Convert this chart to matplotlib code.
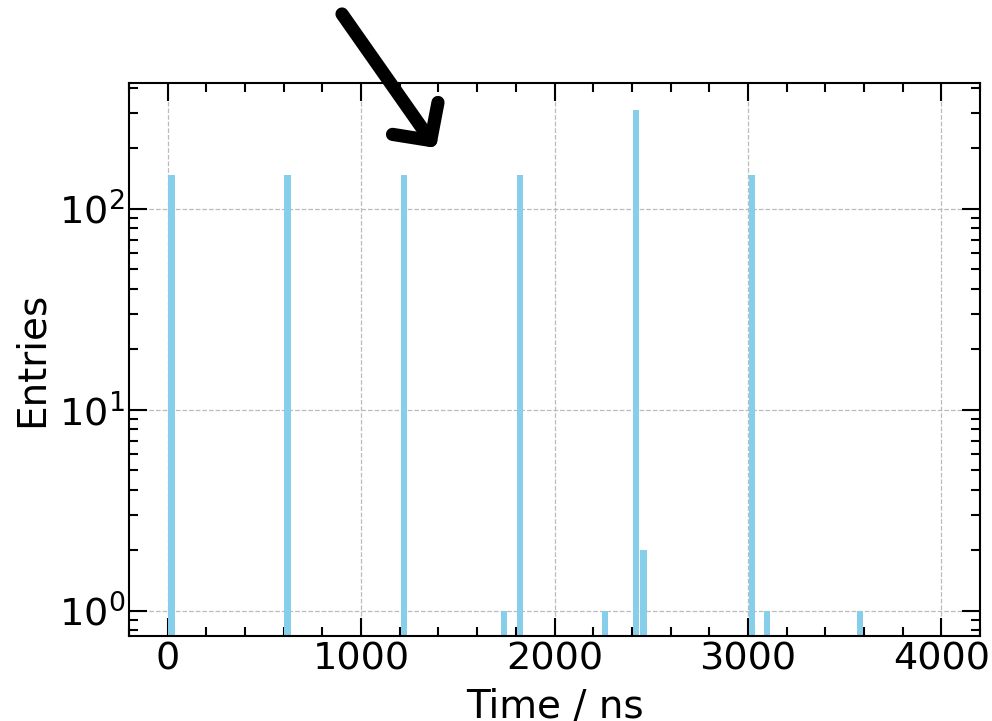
import matplotlib
matplotlib.use('Agg')
import matplotlib.pyplot as plt
from matplotlib.ticker import MultipleLocator, LogLocator, NullFormatter

# Histogram content: left edge of each 40 ns bin and its entries
bin_width = 40
time_bins = [0, 600, 1200, 1720, 1800, 2240, 2400, 2440, 3000, 3080, 3560]
entries = [148, 148, 148, 1, 148, 1, 310, 2, 148, 1, 1]
bin_edges = list(range(0, 4000 + bin_width, bin_width))

plt.rcParams['font.family'] = 'DejaVu Sans'
plt.rcParams['mathtext.fontset'] = 'dejavusans'

fig = plt.figure(figsize=(9.92, 7.21), dpi=100)
ax = fig.add_axes([0.130, 0.118, 0.858, 0.767])

# Draw the histogram from the bin contents
ax.hist(time_bins, bins=bin_edges, weights=entries, rwidth=0.8,
        color='skyblue', log=True, zorder=2)

ax.set_xlim(-200, 4200)
ax.set_ylim(0.75, 423)
ax.xaxis.set_major_locator(MultipleLocator(1000))
ax.xaxis.set_minor_locator(MultipleLocator(200))
ax.yaxis.set_major_locator(LogLocator(base=10))
ax.yaxis.set_minor_locator(LogLocator(base=10, subs=range(2, 10)))
ax.yaxis.set_minor_formatter(NullFormatter())

ax.grid(True, which='major', linestyle='--', color='#bbbbbb', linewidth=0.9, zorder=0)
ax.tick_params(which='both', direction='in', top=True, right=True, width=1.5,
               labelsize=27.5, pad=4)
ax.tick_params(axis='y', which='both', pad=3)
ax.tick_params(which='major', length=13)
ax.tick_params(which='minor', length=6.5)
for spine in ax.spines.values():
    spine.set_linewidth(1.5)

ax.set_xlabel('Time / ns', fontsize=28, labelpad=7)
ax.set_ylabel('Entries', fontsize=28, labelpad=5.5)

# Big black arrow pointing into the plot
ax.annotate('', xy=(436, 721 - 148), xytext=(342, 721 - 14),
            xycoords='figure pixels', textcoords='figure pixels',
            annotation_clip=False,
            arrowprops=dict(arrowstyle='->, head_length=0.97, head_width=1.0',
                            lw=9.5, color='black', shrinkA=0, shrinkB=0,
                            mutation_scale=20, capstyle='round',
                            joinstyle='round'))

fig.savefig('out.png', dpi=100)
